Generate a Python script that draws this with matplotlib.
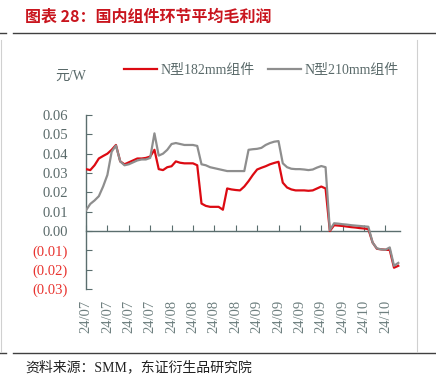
import matplotlib
matplotlib.use("Agg")
import matplotlib.pyplot as plt
from matplotlib.lines import Line2D

plt.rcParams["font.family"] = ["Liberation Serif", "Noto Sans CJK SC", "DejaVu Sans"]

# daily values, one tick every 5 points
red_182 = [
    0.032, 0.0315, 0.034, 0.0375, 0.0388, 0.040, 0.042, 0.0445, 0.036, 0.0345,
    0.0355, 0.0365, 0.0375, 0.0375, 0.0378, 0.0385, 0.042, 0.032, 0.0315, 0.033,
    0.0335, 0.036, 0.0353, 0.035, 0.035, 0.035, 0.034, 0.0142, 0.013, 0.0125,
    0.0125, 0.0125, 0.011, 0.022, 0.0215, 0.0212, 0.021, 0.023, 0.0258, 0.029,
    0.0318, 0.0327, 0.0335, 0.0345, 0.0352, 0.0358, 0.025, 0.0225, 0.0215, 0.021,
    0.021, 0.021, 0.0208, 0.021, 0.022, 0.023, 0.022, 0.0, 0.003, 0.0028,
    0.0026, 0.0023, 0.002, 0.0018, 0.0015, 0.0013, 0.001, -0.006, -0.0092, -0.0095,
    -0.0097, -0.0098, -0.019, -0.018,
]
gray_210 = [
    0.0107, 0.014, 0.0158, 0.018, 0.023, 0.029, 0.041, 0.0442, 0.036, 0.034,
    0.0345, 0.0355, 0.0365, 0.037, 0.037, 0.0378, 0.0505, 0.039, 0.040, 0.042,
    0.045, 0.0455, 0.045, 0.0445, 0.0445, 0.0445, 0.044, 0.0345, 0.034, 0.033,
    0.0325, 0.032, 0.0315, 0.031, 0.031, 0.031, 0.031, 0.031, 0.042, 0.0423,
    0.0425, 0.043, 0.0445, 0.0455, 0.0462, 0.0465, 0.035, 0.033, 0.0322, 0.032,
    0.032, 0.0318, 0.0315, 0.0318, 0.0328, 0.0336, 0.033, 0.0005, 0.004, 0.0038,
    0.0035, 0.0033, 0.003, 0.0028, 0.0026, 0.0024, 0.0022, -0.006, -0.009, -0.0095,
    -0.0097, -0.0085, -0.018, -0.0165,
]
x_labels = ["24/07"] * 4 + ["24/08"] * 4 + ["24/09"] * 5 + ["24/10"] * 2
y_ticks = [-0.03, -0.02, -0.01, 0.0, 0.01, 0.02, 0.03, 0.04, 0.05, 0.06]

RED = "#dc0a12"
GRAY = "#8e8e8e"
AXIS = "#5b6e6e"
TXT = "#5a6a6a"
NEG = "#e8332f"

fig = plt.figure(figsize=(4.36, 3.88), dpi=100)

# title, frame lines and source
fig.text(25 / 436, 1 - 17 / 388, "图表 28：国内组件环节平均毛利润", color="#c9151e",
         fontsize=11.5, fontweight="bold", va="center", ha="left",
         family=["Noto Sans CJK SC", "DejaVu Sans"])
fig.add_artist(Line2D([0, 6 / 436], [1 - 33 / 388] * 2, color="#404040", lw=1))
fig.add_artist(Line2D([13 / 436, 1], [1 - 33 / 388] * 2, color="#404040", lw=1))
fig.add_artist(Line2D([0, 6 / 436], [1 - 353 / 388] * 2, color="#404040", lw=1))
fig.add_artist(Line2D([13 / 436, 1], [1 - 353 / 388] * 2, color="#404040", lw=1))
fig.add_artist(Line2D([417 / 436] * 2, [1 - 40 / 388, 1 - 352 / 388], color="#d0d0d0", lw=0.8))
fig.add_artist(Line2D([1 / 436] * 2, [1 - 40 / 388, 1 - 352 / 388], color="#d0d0d0", lw=0.8))
fig.text(25 / 436, 1 - 367 / 388, "资料来源：SMM，东证衍生品研究院", color="#222222",
         fontsize=10, va="center", ha="left")

ax = fig.add_axes([86 / 436, 1 - 289 / 388, (400 - 86) / 436, (289 - 115) / 388])
x = list(range(len(red_182)))
ax.plot(x, red_182, color=RED, lw=1.6, zorder=3, label="N型182mm组件")
ax.plot(x, gray_210, color=GRAY, lw=1.6, zorder=4, label="N型210mm组件")

ax.set_xlim(0, 73.4)
ax.set_ylim(-0.03, 0.06)

for s in ["top", "right"]:
    ax.spines[s].set_visible(False)
ax.spines["left"].set_color(AXIS)
ax.spines["left"].set_linewidth(1.0)
ax.spines["bottom"].set_position(("data", 0))
ax.spines["bottom"].set_color(AXIS)
ax.spines["bottom"].set_linewidth(1.0)

ax.set_yticks(y_ticks)
ylabels = []
for v in y_ticks:
    ylabels.append(f"({abs(v):.2f})" if v < 0 else f"{v:.2f}")
ax.set_yticklabels(ylabels, fontsize=10.5)
for lab, v in zip(ax.get_yticklabels(), y_ticks):
    lab.set_color(NEG if v < 0 else TXT)
ax.tick_params(axis="y", direction="in", length=4, color=AXIS, pad=13)

tick_pos = list(range(0, 5 * len(x_labels), 5))
ax.set_xticks(tick_pos)
ax.set_xticklabels([])
ax.tick_params(axis="x", direction="in", length=4, color=AXIS)

sec = ax.secondary_xaxis(0.0)
sec.set_xticks(tick_pos)
sec.set_xticklabels(x_labels, rotation=90, fontsize=10.5, color="#6f8080")
sec.tick_params(axis="x", length=0, pad=8)
sec.spines["bottom"].set_visible(False)

fig.text(55 / 436, 1 - 76 / 388, "元/W", color=TXT, fontsize=10, va="center", ha="left")
ax.legend(loc="upper left", bbox_to_anchor=(124 / 436, 1 - 64 / 388),
          bbox_transform=fig.transFigure, ncol=2, frameon=False, fontsize=10,
          handlelength=2.4, handletextpad=0.2, columnspacing=1.0,
          labelcolor=TXT, borderpad=0, borderaxespad=0)

fig.savefig("out.png", dpi=100)
